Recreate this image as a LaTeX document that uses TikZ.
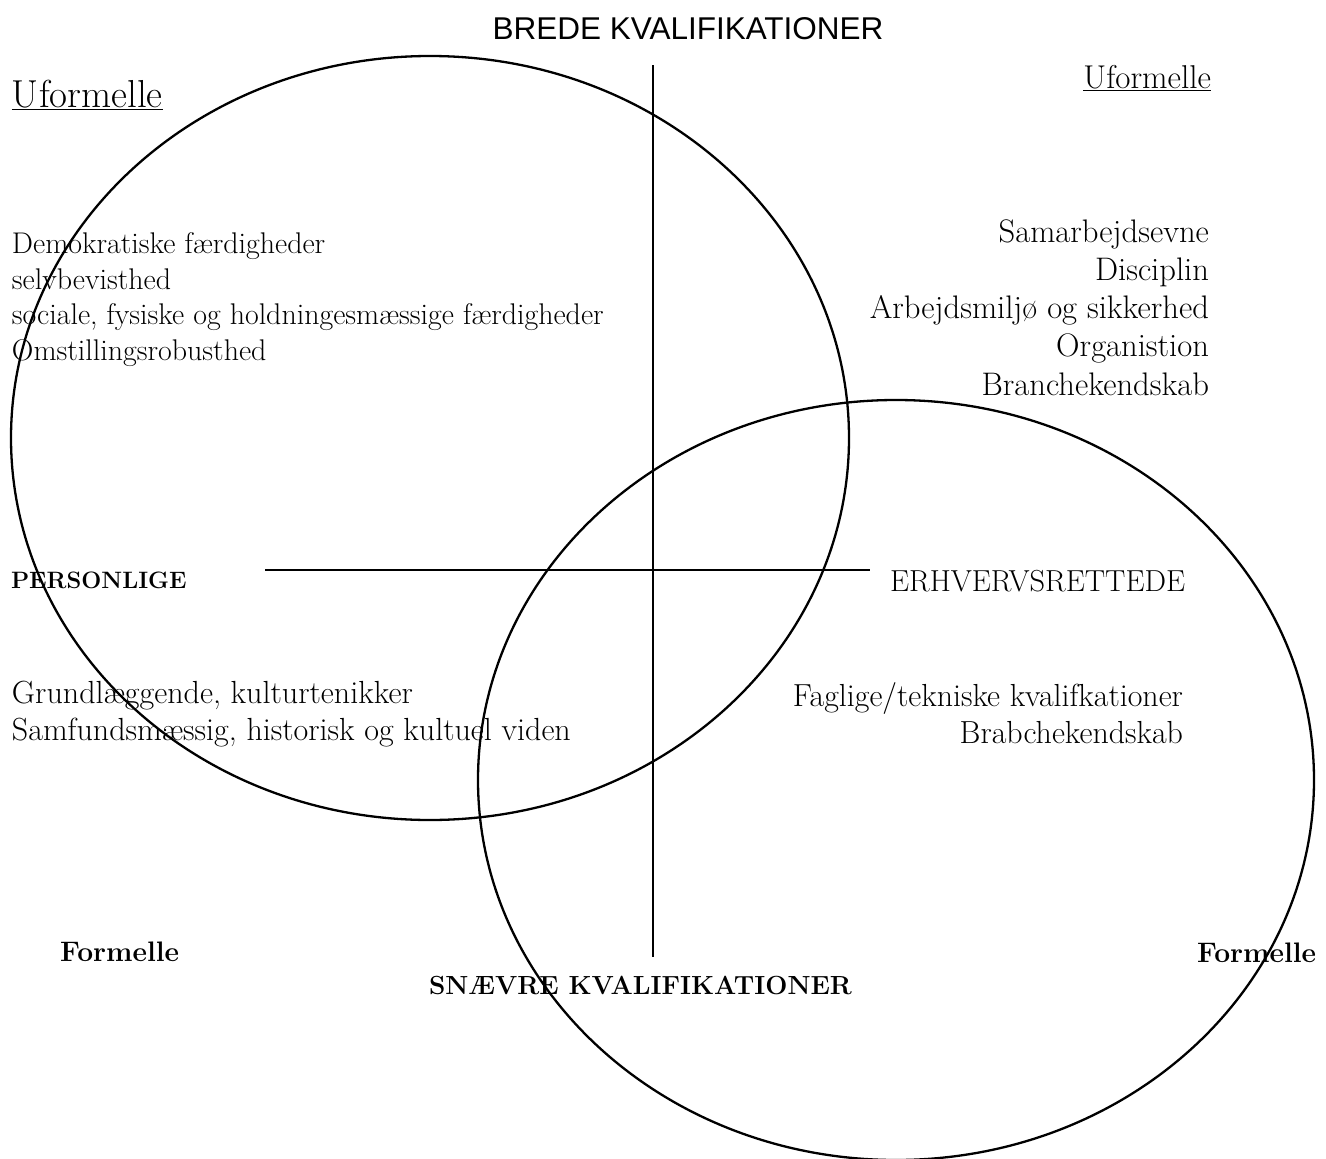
\documentclass[tikz,border=0pt]{standalone}
\usepackage{fontspec}
\newfontfamily\titlefont{Liberation Sans}
\tikzset{
  lbl/.style={inner sep=0pt,outer sep=0pt},
  axis/.style={line width=2pt},
  ring/.style={line width=2.3pt}
}
\begin{document}
\begin{tikzpicture}[x=1pt,y=-1pt]
  \useasboundingbox (0,0) rectangle (1326,1159);
  % the two circles
  \coordinate (pers) at (430,438);
  \coordinate (erhv) at (896,780);
  \draw[ring] (pers) ellipse [x radius=419pt, y radius=382pt];
  \draw[ring] (erhv) ellipse [x radius=418pt, y radius=380pt];
  % axes
  \coordinate (top) at (653,65);
  \coordinate (bot) at (653,957);
  \coordinate (lft) at (265,570);
  \coordinate (rgt) at (870,570);
  \draw[axis] (top) -- (bot);
  \draw[axis] (lft) -- (rgt);
  % labels (multi-line nodes sit on their last line)
  \node[lbl,anchor=base,font=\titlefont\fontsize{31.5}{37}\selectfont] (brede) at (688,39) {BREDE KVALIFIKATIONER};
  \node[lbl,anchor=base west,font=\fontsize{39}{44}\selectfont] (ufl) at (12,107) {\underline{Uformelle}};
  \node[lbl,anchor=base east,font=\fontsize{33}{38}\selectfont] (ufr) at (1211,88) {\underline{Uformelle}};
  \node[lbl,anchor=base west,align=left,font=\fontsize{29.9}{35.5}\selectfont] (demo) at (12,360)
    {Demokratiske færdigheder\\selvbevisthed\\sociale, fysiske og holdningesmæssige færdigheder\\Omstillingsrobusthed};
  \node[lbl,anchor=base east,align=right,font=\fontsize{32.6}{38.2}\selectfont] (samar) at (1209,395)
    {Samarbejdsevne\\Disciplin\\Arbejdsmiljø og sikkerhed\\Organistion~\\Branchekendskab};
  \node[lbl,anchor=base west,font=\bfseries\fontsize{23.7}{28}\selectfont] (personlige) at (11,588) {PERSONLIGE};
  \node[lbl,anchor=base west,font=\fontsize{30.4}{35}\selectfont] (erhvervs) at (890,591) {ERHVERVSRETTEDE};
  \node[lbl,anchor=base west,align=left,font=\fontsize{32}{37}\selectfont] (grund) at (12,740)
    {Grundlæggende, kulturtenikker\\Samfundsmæssig, historisk og kultuel viden};
  \node[lbl,anchor=base east,align=right,font=\fontsize{31.9}{37}\selectfont] (faglige) at (1183,743)
    {Faglige/tekniske kvalifkationer\\Brabchekendskab};
  \node[lbl,anchor=base west,font=\bfseries\fontsize{28.2}{33}\selectfont] (forml) at (60,961) {Formelle};
  \node[lbl,anchor=base west,font=\bfseries\fontsize{28.2}{33}\selectfont] (formr) at (1197,962) {Formelle};
  \node[lbl,anchor=base west,font=\bfseries\fontsize{26.2}{31}\selectfont] (snaevre) at (429,994) {SNÆVRE KVALIFIKATIONER};
\end{tikzpicture}
\end{document}
